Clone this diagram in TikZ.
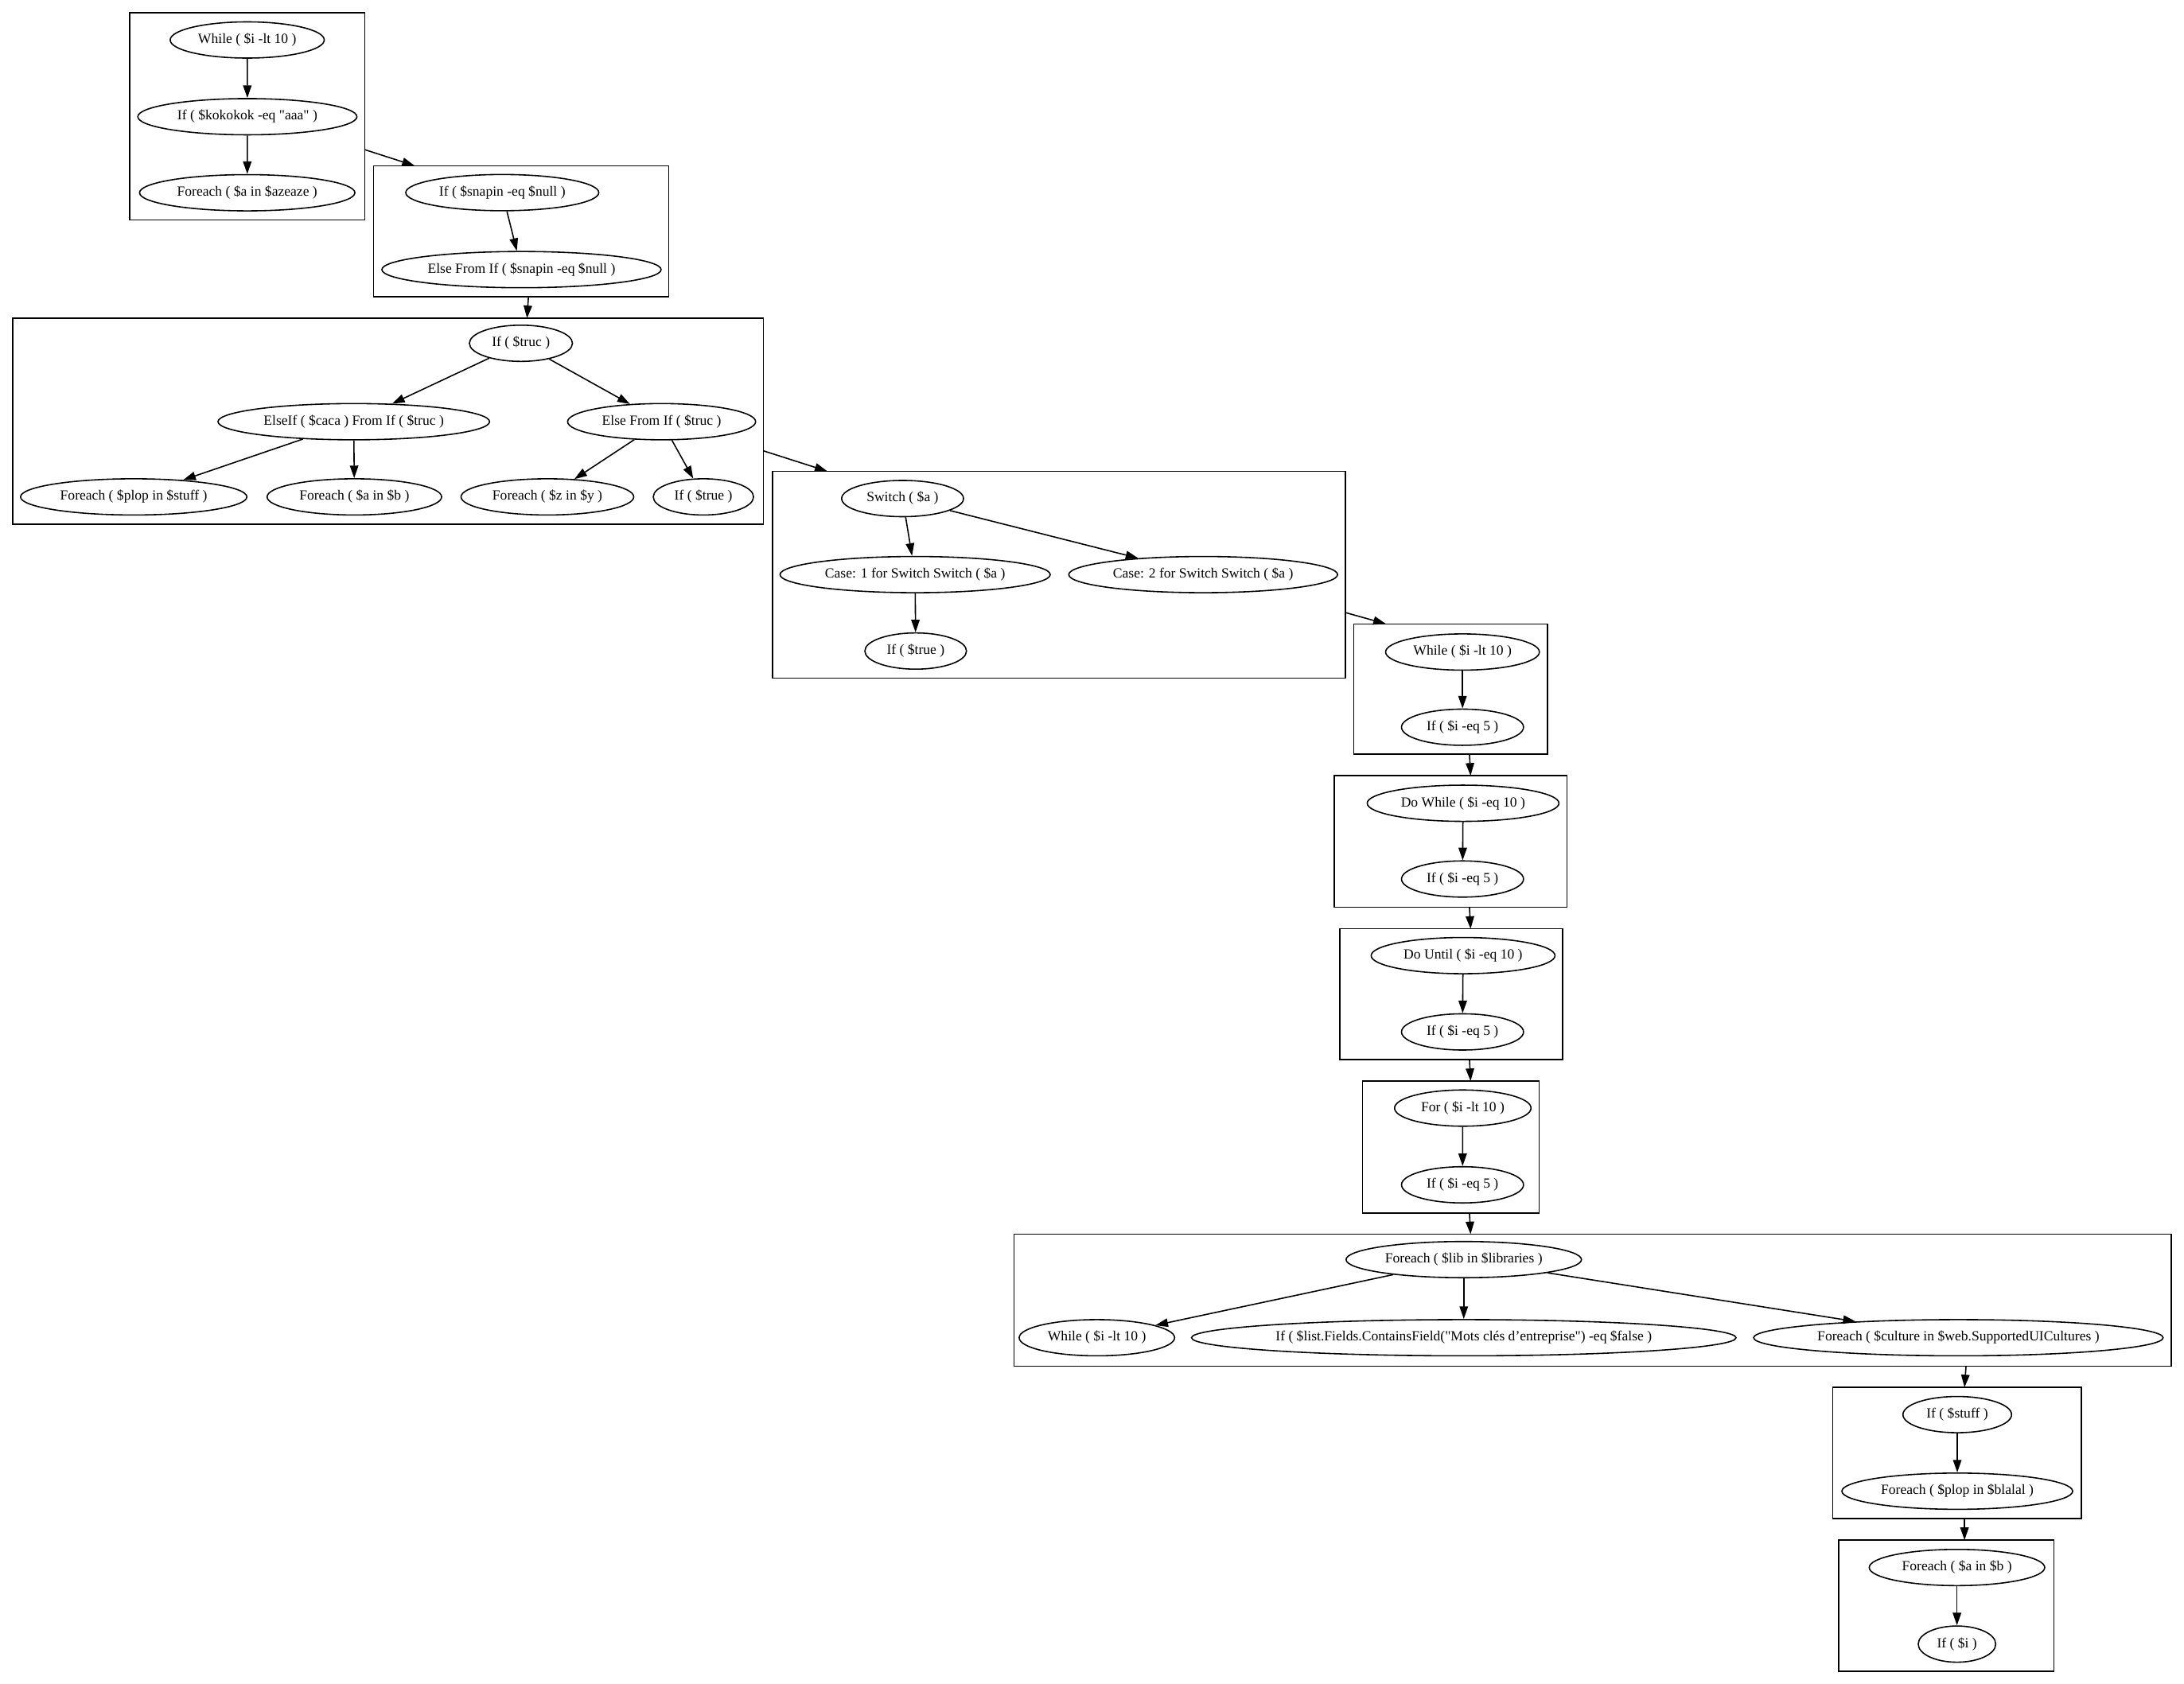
\documentclass[tikz,border=0pt]{standalone}
\usepackage{fontspec}
\setmainfont{Liberation Serif}
\usetikzlibrary{arrows.meta,shapes.geometric}

\begin{document}
\begin{tikzpicture}[x=0.017506cm, y=-0.017506cm, font=\fontsize{5}{6}\selectfont, line width=0.45pt,
    blk/.style={draw, ellipse, inner xsep=-5pt, inner ysep=0pt, text height=3.4pt, text depth=1pt,
                minimum height=0.455cm, minimum width={#1*0.017506cm}},
    cluster/.style={draw},
    edge/.style={-{Triangle[length=4.5pt,width=3pt]}}]
        \useasboundingbox (0,0) rectangle (1568,1209);

        \draw[cluster] (93,9) rectangle (262,158);
        \node[blk=110.6] (while1) at (177.5,28.7) {While ( \$i -lt 10 )};
        \node[blk=157.3] (if1) at (177.6,83.8) {If ( \$kokokok -eq \textquotedbl aaa\textquotedbl{} )};
        \node[blk=154.6] (foreach1) at (177.5,138.4) {Foreach ( \$a in \$azeaze )};
        \draw[edge] (while1) -- (if1);
        \draw[edge] (if1) -- (foreach1);

        \draw[cluster] (268.3,119) rectangle (480.2,212.9);
        \node[blk=138.6] (snapin) at (360.6,138.3) {If ( \$snapin -eq \$null )};
        \node[blk=200.5] (snapelse) at (374.4,193.6) {Else From If ( \$snapin -eq \$null )};
        \draw[edge] (snapin) -- (snapelse);

        \draw[cluster] (9,228.5) rectangle (548,376.5);
        \node[blk=74] (truc) at (374,246.5) {If ( \$truc )};
        \node[blk=195] (caca) at (254,302.8) {ElseIf ( \$caca ) From If ( \$truc )};
        \node[blk=135] (trucelse) at (475,302.8) {Else From If ( \$truc )};
        \node[blk=162.5] (plop) at (96,356.8) {Foreach ( \$plop in \$stuff )};
        \node[blk=125.3] (ainb) at (254.4,356.8) {Foreach ( \$a in \$b )};
        \node[blk=124] (ziny) at (393,356.8) {Foreach ( \$z in \$y )};
        \node[blk=72] (true1) at (505,356.8) {If ( \$true )};
        \draw[edge] (truc) -- (caca);
        \draw[edge] (truc) -- (trucelse);
        \draw[edge] (caca) -- (plop);
        \draw[edge] (caca) -- (ainb);
        \draw[edge] (trucelse) -- (ziny);
        \draw[edge] (trucelse) -- (true1);

        \draw[cluster] (554.5,338.4) rectangle (966,487);
        \node[blk=87.5] (switch) at (648,358) {Switch ( \$a )};
        \node[blk=194] (case1) at (657,412.6) {Case: 1 for Switch Switch ( \$a )};
        \node[blk=193] (case2) at (863.8,412.6) {Case: 2 for Switch Switch ( \$a )};
        \node[blk=73] (true2) at (657.4,467.5) {If ( \$true )};
        \draw[edge] (switch) -- (case1);
        \draw[edge] (switch) -- (case2);
        \draw[edge] (case1) -- (true2);

        \draw[cluster] (972,448) rectangle (1111,541.5);
        \node[blk=110.4] (while2) at (1050,468.2) {While ( \$i -lt 10 )};
        \node[blk=87.6] (ieq1) at (1050,522.2) {If ( \$i -eq 5 )};
        \draw[edge] (while2) -- (ieq1);

        \draw[cluster] (958,557) rectangle (1125,651.4);
        \node[blk=137.7] (dowhile) at (1050.4,576.8) {Do While ( \$i -eq 10 )};
        \node[blk=87.6] (ieq2) at (1050,631.2) {If ( \$i -eq 5 )};
        \draw[edge] (dowhile) -- (ieq2);

        \draw[cluster] (962,667) rectangle (1122,760.7);
        \node[blk=132] (dountil) at (1050.4,686.2) {Do Until ( \$i -eq 10 )};
        \node[blk=87.6] (ieq3) at (1050,741) {If ( \$i -eq 5 )};
        \draw[edge] (dountil) -- (ieq3);

        \draw[cluster] (978.3,776.3) rectangle (1105,871);
        \node[blk=98] (forloop) at (1050.2,795.7) {For ( \$i -lt 10 )};
        \node[blk=87.6] (ieq4) at (1050,850.8) {If ( \$i -eq 5 )};
        \draw[edge] (forloop) -- (ieq4);

        \draw[cluster] (727.9,886.3) rectangle (1559,981);
        \node[blk=169] (libs) at (1050.9,904.5) {Foreach ( \$lib in \$libraries )};
        \node[blk=111.6] (while3) at (787.5,960.6) {While ( \$i -lt 10 )};
        \node[blk=391] (fields) at (1050.9,960.6) {If ( \$list.Fields.ContainsField(\textquotedbl Mots clés d’entreprise\textquotedbl) -eq \$false )};
        \node[blk=294] (cultures) at (1406,960.6) {Foreach ( \$culture in \$web.SupportedUICultures )};
        \draw[edge] (libs) -- (while3);
        \draw[edge] (libs) -- (fields);
        \draw[edge] (libs) -- (cultures);

        \draw[cluster] (1315.7,996.2) rectangle (1494.3,1090.5);
        \node[blk=78] (stuff) at (1405.2,1015.8) {If ( \$stuff )};
        \node[blk=165.7] (blalal) at (1405.2,1070.8) {Foreach ( \$plop in \$blalal )};
        \draw[edge] (stuff) -- (blalal);

        \draw[cluster] (1320,1105.9) rectangle (1474.7,1200.2);
        \node[blk=126] (ainb2) at (1405,1125.6) {Foreach ( \$a in \$b )};
        \node[blk=55.6] (ifi) at (1405,1180.6) {If ( \$i )};
        \draw[edge] (ainb2) -- (ifi);

        \coordinate (out1) at (262,107.5);    \coordinate (in2) at (297.7,119);
        \coordinate (out2) at (379.4,212.9);  \coordinate (in3) at (378.4,228.5);
        \coordinate (out3) at (548,323.7);    \coordinate (in4) at (594,338.4);
        \coordinate (out4) at (966,439.9);    \coordinate (in5) at (995,448);
        \coordinate (out5) at (1055,541.5);   \coordinate (in6) at (1055.8,557);
        \coordinate (out6) at (1055,651.4);   \coordinate (in7) at (1055.8,667);
        \coordinate (out7) at (1055,760.7);   \coordinate (in8) at (1055.8,776.3);
        \coordinate (out8) at (1055,871);     \coordinate (in9) at (1055.8,886.3);
        \coordinate (out9) at (1411.5,981);   \coordinate (in10) at (1410.4,996.2);
        \coordinate (out10) at (1410.4,1090.5); \coordinate (in11) at (1410.4,1105.9);
        \draw[edge] (out1) -- (in2);
        \draw[edge] (out2) -- (in3);
        \draw[edge] (out3) -- (in4);
        \draw[edge] (out4) -- (in5);
        \draw[edge] (out5) -- (in6);
        \draw[edge] (out6) -- (in7);
        \draw[edge] (out7) -- (in8);
        \draw[edge] (out8) -- (in9);
        \draw[edge] (out9) -- (in10);
        \draw[edge] (out10) -- (in11);
      \end{tikzpicture}
\end{document}
